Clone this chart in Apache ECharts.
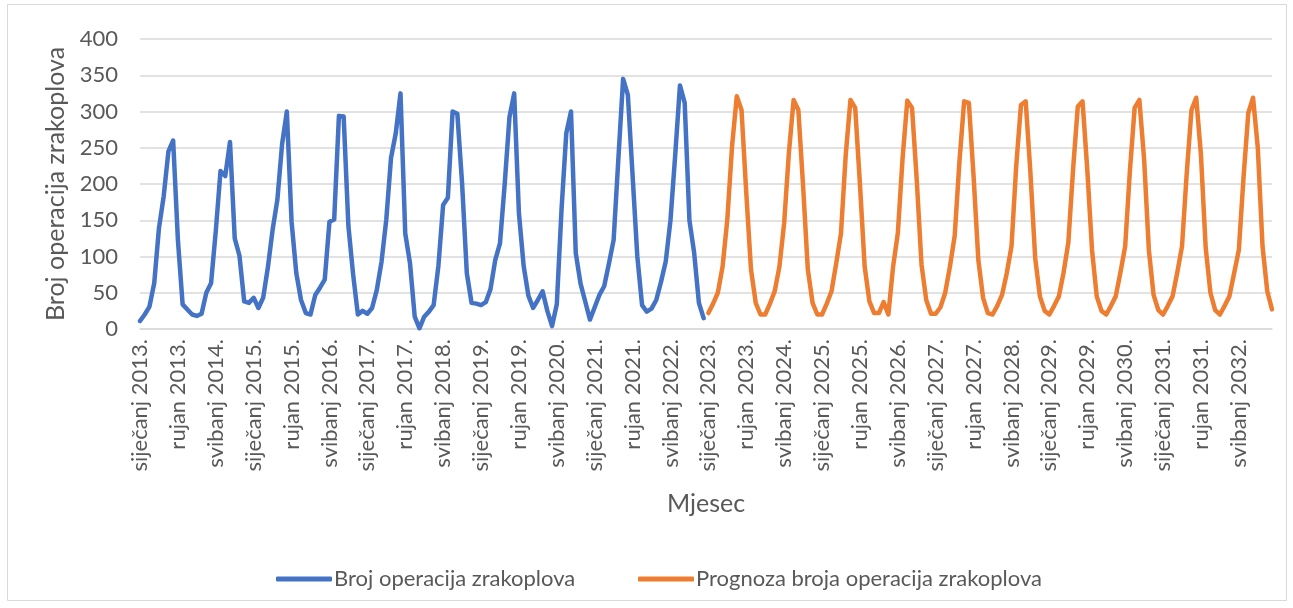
<!DOCTYPE html>
<html>
<head>
<meta charset="utf-8">
<script src="https://cdn.jsdelivr.net/npm/echarts@6/dist/echarts.min.js"></script>
<style>
  html, body { margin: 0; padding: 0; background: #fff; }
  #chart { width: 1293px; height: 608px; }
</style>
</head>
<body>
<div id="chart"></div>
<script>
const monthNames = ["siječanj", "veljača", "ožujak", "travanj", "svibanj", "lipanj",
  "srpanj", "kolovoz", "rujan", "listopad", "studeni", "prosinac"]
const years = [2013, 2014, 2015, 2016, 2017, 2018, 2019, 2020, 2021, 2022,
  2023, 2024, 2025, 2026, 2027, 2028, 2029, 2030, 2031, 2032]

// Jan 2013 - Dec 2022, one row per year
const historical = [
  11, 20, 31, 63, 139, 183, 245, 260, 123, 34, 27, 20,
  18, 21, 50, 63, 135, 218, 211, 258, 125, 101, 38, 36,
  43, 29, 43, 85, 137, 178, 255, 300, 148, 77, 40, 22,
  20, 47, 57, 68, 148, 151, 294, 293, 142, 75, 20, 25,
  21, 29, 54, 93, 151, 236, 270, 325, 132, 91, 17, 1,
  17, 24, 33, 87, 171, 181, 300, 297, 201, 77, 36, 35,
  33, 37, 55, 95, 118, 200, 292, 325, 160, 87, 46, 29,
  40, 52, 25, 4, 34, 165, 270, 300, 105, 63, 38, 13,
  30, 47, 59, 90, 123, 235, 345, 323, 212, 100, 33, 24,
  28, 40, 65, 93, 150, 240, 336, 312, 150, 105, 36, 15,
]

// Jan 2023 - Dec 2032
const forecast = [
  22, 35, 50, 86, 151, 252, 321, 302, 188, 82, 36, 20,
  20, 35, 52, 86, 146, 243, 316, 302, 197, 82, 36, 20,
  20, 35, 52, 91, 132, 240, 316, 305, 200, 86, 38, 22,
  22, 37, 20, 86, 132, 235, 315, 305, 205, 89, 40, 21,
  21, 30, 50, 86, 128, 230, 314, 312, 210, 95, 43, 22,
  20, 32, 47, 77, 114, 225, 309, 314, 215, 98, 45, 25,
  20, 32, 45, 78, 119, 220, 307, 314, 220, 109, 45, 25,
  20, 32, 45, 78, 114, 218, 305, 316, 234, 109, 47, 26,
  20, 32, 45, 78, 114, 215, 302, 319, 240, 112, 50, 26,
  20, 32, 45, 77, 109, 210, 298, 319, 250, 114, 52, 27,
]

const yTicks = [0, 50, 100, 150, 200, 250, 300, 350, 400]

const categories = []
years.forEach(y => monthNames.forEach(m => categories.push(m + " " + y + ".")))

const histSeries = historical.concat(forecast.map(() => null))
const foreSeries = historical.map(() => null).concat(forecast)

const textColor = "#595959"
const lineColor = "#d9d9d9"
const font = "Lato, 'Open Sans', sans-serif"

const myChart = echarts.init(document.getElementById("chart"))

function legendFor(name, left) {
  return {
    left: left, top: 563,
    data: [name],
    icon: "roundRect", itemWidth: 56, itemHeight: 5, itemGap: 0,
    textStyle: {color: textColor, fontSize: 22, fontFamily: font, padding: [0, 0, 0, -3]},
  }
}

myChart.setOption({
  animation: false,
  textStyle: {fontFamily: font},
  color: ["#4472c4", "#ed7d31"],
  graphic: [{
    type: "rect",
    shape: {x: 7.5, y: 4.5, width: 1279, height: 596},
    style: {fill: "none", stroke: lineColor, lineWidth: 1},
    silent: true,
  }],
  grid: {left: 140, right: 21, top: 39, bottom: 279},
  legend: [
    legendFor("Broj operacija zrakoplova", 271),
    legendFor("Prognoza broja operacija zrakoplova", 633),
  ],
  xAxis: {
    type: "category",
    data: categories,
    boundaryGap: false,
    name: "Mjesec",
    nameLocation: "middle",
    nameGap: 162,
    nameTextStyle: {color: textColor, fontSize: 25, fontFamily: font},
    axisLine: {lineStyle: {color: lineColor, width: 1.5}},
    axisTick: {show: false},
    axisLabel: {
      interval: 7,
      rotate: 90,
      margin: 10,
      color: textColor,
      fontSize: 22,
      fontFamily: font,
    },
  },
  yAxis: {
    type: "value",
    min: yTicks[0],
    max: yTicks[yTicks.length - 1],
    interval: yTicks[1] - yTicks[0],
    name: "Broj operacija zrakoplova",
    nameLocation: "middle",
    nameGap: 70,
    nameTextStyle: {color: textColor, fontSize: 25, fontFamily: font},
    axisLine: {show: false},
    axisTick: {show: false},
    axisLabel: {color: textColor, fontSize: 22, margin: 22, fontFamily: font},
    splitLine: {lineStyle: {color: lineColor, width: 1.5}},
  },
  series: [
    {
      name: "Broj operacija zrakoplova",
      type: "line",
      data: histSeries,
      symbol: "none",
      connectNulls: false,
      lineStyle: {width: 4.5, join: "round", cap: "round"},
    },
    {
      name: "Prognoza broja operacija zrakoplova",
      type: "line",
      data: foreSeries,
      symbol: "none",
      connectNulls: false,
      lineStyle: {width: 4.5, join: "round", cap: "round"},
    },
  ],
})
</script>
</body>
</html>
